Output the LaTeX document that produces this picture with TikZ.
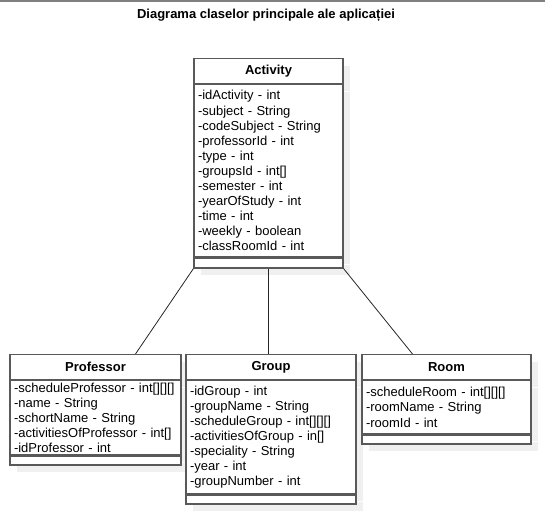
\documentclass[tikz,border=0pt]{standalone}
\usepackage{fontspec}
\setmainfont{Liberation Sans}
\usetikzlibrary{positioning, shadows}

\begin{document}
\begin{tikzpicture}[x=1pt, y=-1pt, node distance=0pt]

    % Define styles for the class boxes and links
    \tikzset{
        boxshadow/.style={drop shadow={shadow xshift=7pt, shadow yshift=-7pt, fill=black!6, opacity=1}},
        classhead/.style={draw=black!65, line width=1.2pt, fill=white, boxshadow,
            font=\fontsize{13}{15.6}\selectfont\bfseries, minimum width=#1, minimum height=25pt, inner sep=0pt},
        classattr/.style={draw=black!65, line width=1.2pt, fill=white, boxshadow,
            font=\fontsize{13}{15.1}\selectfont, text width=#1, align=left, inner xsep=4pt, inner ysep=0pt},
        classfoot/.style={draw=black!65, line width=1.2pt, fill=white, boxshadow,
            minimum width=#1, minimum height=9pt, inner sep=0pt},
        assoc/.style={black!85, line width=0.8pt}
    }

    \useasboundingbox (0,0) rectangle (545,522);
    \draw[black!50, line width=1.5pt] (0,0.75) -- (545,0.75);

    \node (title) at (266,15) {\fontsize{13}{15.6}\selectfont\bfseries Diagrama claselor principale ale aplicației};

    % Activity
    \node (acthead) [classhead=149pt, anchor=north] at (268.5,58) {Activity};
    \node (actattr) [classattr=141pt, below=of acthead, minimum height=172pt] {-idActivity - int\\-subject - String\\-codeSubject - String\\-professorId - int\\-type - int\\-groupsId - int[]\\-semester - int\\-yearOfStudy - int\\-time - int\\-weekly - boolean\\-classRoomId - int};
    \node (actfoot) [classfoot=149pt, below=of actattr, minimum height=10pt] {};

    % Professor
    \node (profhead) [classhead=171pt, anchor=north] at (95.5,354) {Professor};
    \node (profattr) [classattr=163pt, below=of profhead, minimum height=74pt] {-scheduleProfessor - int[][][]\\-name - String\\-schortName - String\\-activitiesOfProfessor - int[]\\-idProfessor - int};
    \node (proffoot) [classfoot=171pt, below=of profattr] {};

    % Group
    \node (grouphead) [classhead=170pt, anchor=north] at (271,354) {Group};
    \node (groupattr) [classattr=162pt, below=of grouphead, minimum height=113pt] {-idGroup - int\\-groupName - String\\-scheduleGroup - int[][][]\\-activitiesOfGroup - in[]\\-speciality - String\\-year - int\\-groupNumber - int};
    \node (groupfoot) [classfoot=170pt, below=of groupattr] {};

    % Room
    \node (roomhead) [classhead=169pt, anchor=north] at (446.5,354) {Room};
    \node (roomattr) [classattr=161pt, below=of roomhead, minimum height=53pt] {-scheduleRoom - int[][][]\\-roomName - String\\-roomId - int};
    \node (roomfoot) [classfoot=169pt, below=of roomattr] {};

    \draw[assoc] (actfoot.south west) -- ([xshift=40pt]profhead.north);
    \draw[assoc] (actfoot.south) -- (actfoot.south |- grouphead.north);
    \draw[assoc] (actfoot.south east) -- ([xshift=-34pt]roomhead.north);

\end{tikzpicture}
\end{document}
